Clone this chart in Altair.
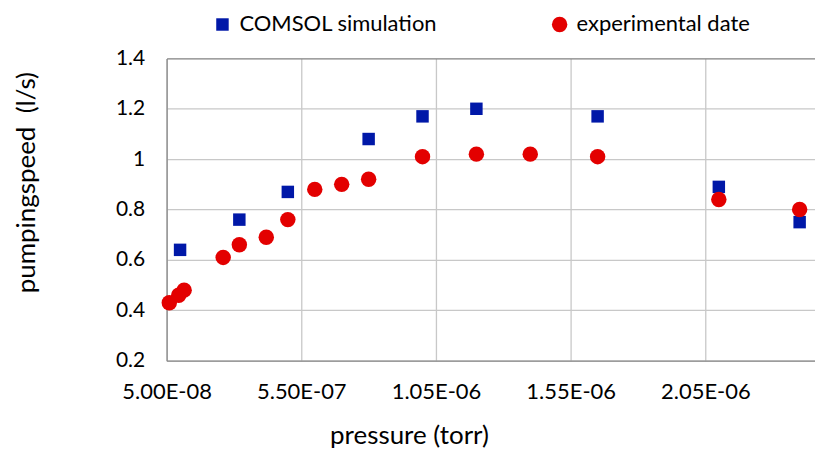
import altair as alt
import pandas as pd

# COMSOL simulation
sim_pressure = [1.0e-7, 3.2e-7, 5.0e-7, 8.0e-7, 1.0e-6, 1.2e-6, 1.65e-6, 2.1e-6, 2.4e-6]
sim_speed = [0.64, 0.76, 0.87, 1.08, 1.17, 1.20, 1.17, 0.89, 0.75]

# experimental data
exp_pressure = [6.0e-8, 9.5e-8, 1.15e-7, 2.6e-7, 3.2e-7, 4.2e-7, 5.0e-7, 6.0e-7,
                7.0e-7, 8.0e-7, 1.0e-6, 1.2e-6, 1.4e-6, 1.65e-6, 2.1e-6, 2.4e-6]
exp_speed = [0.43, 0.46, 0.48, 0.61, 0.66, 0.69, 0.76, 0.88,
             0.90, 0.92, 1.01, 1.02, 1.02, 1.01, 0.84, 0.80]

series_names = ["COMSOL simulation", "experimental date"]
x_ticks = [5.0e-8, 5.5e-7, 1.05e-6, 1.55e-6, 2.05e-6]
y_ticks = [0.2, 0.4, 0.6, 0.8, 1.0, 1.2, 1.4]

df = pd.concat([
    pd.DataFrame({"pressure": sim_pressure, "speed": sim_speed, "series": series_names[0]}),
    pd.DataFrame({"pressure": exp_pressure, "speed": exp_speed, "series": series_names[1]}),
], ignore_index=True)

FONT = "Lato"

legend_cfg = dict(title=None, orient="none", direction="horizontal",
                  columns=2, legendX=45, legendY=-45,
                  columnPadding=111, labelOffset=6, padding=0)

chart = alt.Chart(df).mark_point(filled=True, opacity=1, strokeWidth=0).encode(
    x=alt.X("pressure:Q",
            scale=alt.Scale(domain=[5.0e-8, 2.457e-6], nice=False, zero=False),
            axis=alt.Axis(values=x_ticks,
                          labelExpr="replace(upper(format(datum.value, '.2e')), 'E-', 'E-0')",
                          labelFlush=False,
                          title="pressure (torr)",
                          titleX=243, titleY=83, titleBaseline="alphabetic", titleAnchor="middle")),
    y=alt.Y("speed:Q",
            scale=alt.Scale(domain=[0.2, 1.4], nice=False, zero=False),
            axis=alt.Axis(values=y_ticks, format="~g",
                          title="pumpingspeed\u00a0\u00a0(l/s)",
                          titleX=-132, titleY=124, titleBaseline="alphabetic", titleAngle=-90,
                          gridColor={"condition": {"test": "datum.value > 1.39", "value": "#808080"},
                                     "value": "#C8C8C8"})),
    color=alt.Color("series:N",
                    scale=alt.Scale(domain=series_names, range=["#0018A8", "#E30000"]),
                    legend=alt.Legend(**legend_cfg)),
    shape=alt.Shape("series:N",
                    scale=alt.Scale(domain=series_names, range=["square", "circle"]),
                    legend=alt.Legend(**legend_cfg)),
    size=alt.Size("series:N",
                  scale=alt.Scale(domain=series_names, range=[156, 240]),
                  legend=alt.Legend(**legend_cfg)),
).properties(
    width=650, height=303,
    autosize=alt.AutoSizeParams(type="none"),
    padding={"left": 159, "top": 50, "right": 0, "bottom": 88},
).configure_view(
    stroke=None
).configure_axis(
    labelFont=FONT, titleFont=FONT, titleFontSize=26,
    labelColor="#000000", titleColor="#000000", titleFontWeight="normal",
    ticks=False, domainColor="#898989", domainWidth=1.3,
    gridColor="#C8C8C8", gridWidth=1.3,
).configure_axisX(
    labelPadding=21, labelFontSize=22
).configure_axisY(
    labelPadding=22, labelFontSize=21
).configure_legend(
    labelFont=FONT, labelFontSize=22, labelColor="#000000", labelLimit=400,
)

chart.save("out.html", embed_options={"renderer": "svg", "actions": False})
